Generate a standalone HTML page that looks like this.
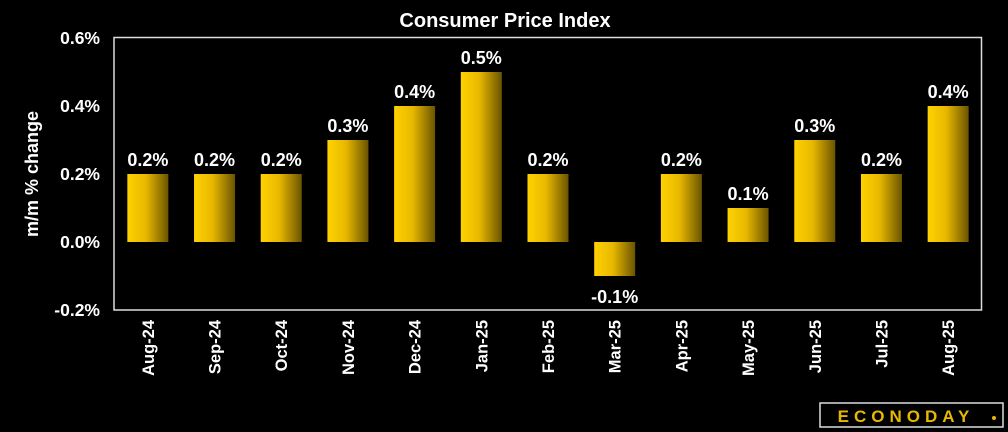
<!DOCTYPE html>
<html><head><meta charset="utf-8"><style>
body{margin:0;background:#000;width:1008px;height:432px;overflow:hidden}
svg{display:block;font-family:"Liberation Sans",sans-serif}
</style></head><body>
<svg id="c" width="1008" height="432">
<defs><linearGradient id="g" x1="0" x2="1" y1="0" y2="0">
<stop offset="0" stop-color="#ffd200"/><stop offset="0.45" stop-color="#e8b800"/><stop offset="1" stop-color="#6a5400"/></linearGradient></defs>
<text x="505" y="27" fill="#fff" font-size="20" font-weight="bold" text-anchor="middle">Consumer Price Index</text>
<text transform="translate(38,174) rotate(-90)" fill="#fff" font-size="18" font-weight="bold" text-anchor="middle">m/m % change</text>
<rect x="114" y="37.5" width="867.5" height="272.5" fill="none" stroke="#ddd" stroke-width="1.5"/>
<g id="bars"></g>
<rect x="820" y="403" width="183" height="24" fill="#000" stroke="#ddd" stroke-width="1.5"/>
<text x="906" y="422" fill="#e8b800" font-size="17" font-weight="bold" letter-spacing="5" text-anchor="middle">ECONODAY</text>
<circle cx="994" cy="418" r="2" fill="#e8b800"/>
</svg>
<script>
const categories=["Aug-24","Sep-24","Oct-24","Nov-24","Dec-24","Jan-25","Feb-25","Mar-25","Apr-25","May-25","Jun-25","Jul-25","Aug-25"];
const values=[0.2,0.2,0.2,0.3,0.4,0.5,0.2,-0.1,0.2,0.1,0.3,0.2,0.4];
const yTicks=[-0.2,0,0.2,0.4,0.6];
const yTickLabels=["-0.2%","0.0%","0.2%","0.4%","0.6%"];
const G=document.getElementById('bars'),NS="http://www.w3.org/2000/svg";
const pLeft=114.5,pRight=981.5,pTop=38,pBot=310,ymin=-0.2,ymax=0.6;
const yS=v=>pBot-(v-ymin)/(ymax-ymin)*(pBot-pTop);
const slot=(pRight-pLeft)/categories.length;
const xc=i=>pLeft+slot*(i+0.5);
function mk(t,a){const e=document.createElementNS(NS,t);for(const k in a)e.setAttribute(k,a[k]);G.appendChild(e);return e;}
yTicks.forEach((v,i)=>{
 const t=mk('text',{x:100,y:yS(v)+6,fill:'#fff','font-size':17.5,'font-weight':'bold','text-anchor':'end'});
 t.textContent=yTickLabels[i];
 
 
});
const bw=41;
values.forEach((v,i)=>{
 const x=xc(i),y0=yS(0),y1=yS(v);
 const r=mk('rect',{x:x-bw/2,y:Math.min(y0,y1),width:bw,height:Math.abs(y1-y0),fill:'url(#g)'});
 
 
 const ly=v>=0?y1-8:y1+27;
 const t=mk('text',{x:x,y:ly,fill:'#fff','font-size':18,'font-weight':'bold','text-anchor':'middle'});
 t.textContent=v.toFixed(1)+'%';
 
 
 const c=mk('text',{transform:`translate(${x+6},320) rotate(-90)`,fill:'#fff','font-size':16.5,'font-weight':'bold','text-anchor':'end'});
 c.textContent=categories[i];
 
 
});
</script>
</body></html>
